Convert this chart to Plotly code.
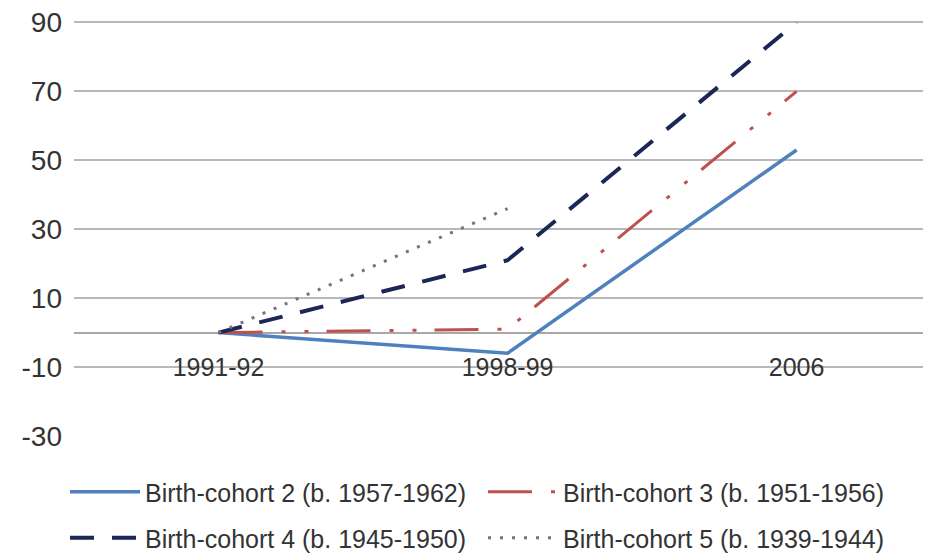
import plotly.graph_objects as go

periods = ["1991-92", "1998-99", "2006"]
cohort2 = [0, -6, 53]
cohort3 = [0, 1, 70]
cohort4 = [0, 21, 90]
cohort5 = [0, 36, None]
names = [
    "Birth-cohort 2 (b. 1957-1962)",
    "Birth-cohort 3 (b. 1951-1956)",
    "Birth-cohort 4 (b. 1945-1950)",
    "Birth-cohort 5 (b. 1939-1944)",
]
y_ticks = [-30, -10, 10, 30, 50, 70, 90]
y_tick_labels = ["-30", "-10", "10", "30", "50", "70", "90"]

FONT = "Liberation Sans, Arial, sans-serif"
TXT = "#333333"

W, H = 923, 546

fig = go.Figure()
fig.add_trace(go.Scatter(x=periods, y=cohort2, name=names[0], mode="lines",
                         line=dict(color="#4f81bd", width=3.5), legend="legend"))
fig.add_trace(go.Scatter(x=periods, y=cohort3, name=names[1], mode="lines",
                         line=dict(color="#c0504d", width=3,
                                   dash="44px,19px,4px,19px,4px,18px"), legend="legend"))
fig.add_trace(go.Scatter(x=periods, y=cohort4, name=names[2], mode="lines",
                         line=dict(color="#1b2757", width=4, dash="24px,18px"),
                         legend="legend2"))
fig.add_trace(go.Scatter(x=periods, y=cohort5, name=names[3], mode="lines",
                         line=dict(color="#76708a", width=3, dash="3px,9px"),
                         legend="legend2"))

legend_common = dict(
    orientation="h", xref="container", yref="container",
    x=57 / W, xanchor="left", yanchor="middle",
    font=dict(family=FONT, size=25, color=TXT),
    itemwidth=70, entrywidth=333, entrywidthmode="pixels",
    bgcolor="rgba(0,0,0,0)", borderwidth=0, traceorder="normal",
)

fig.update_layout(
    width=W, height=H,
    margin=dict(l=66, r=0, t=11, b=118, autoexpand=False),
    paper_bgcolor="white", plot_bgcolor="white",
    font=dict(family=FONT, color=TXT),
    legend=dict(legend_common, y=1 - 484 / H),
    legend2=dict(legend_common, y=1 - 530 / H),
    xaxis=dict(
        type="category", range=[-0.5, 2.465],
        anchor="free", position=30 / 121, automargin=False,
        showgrid=False, showline=False, zeroline=False, ticks="",
        tickfont=dict(family=FONT, size=25, color=TXT),
        ticklabelstandoff=17, ticklabeloverflow="allow",
    ),
    yaxis=dict(
        range=[-30, 91], tickvals=y_ticks, ticktext=y_tick_labels,
        automargin=False,
        showgrid=True, gridcolor="#b8b8b8", gridwidth=2,
        zeroline=True, zerolinecolor="#a8a8a8", zerolinewidth=2,
        showline=False, ticks="",
        tickfont=dict(family=FONT, size=28, color=TXT),
        ticklabelstandoff=11, ticklabeloverflow="allow",
    ),
)

fig.write_html("out.html")
